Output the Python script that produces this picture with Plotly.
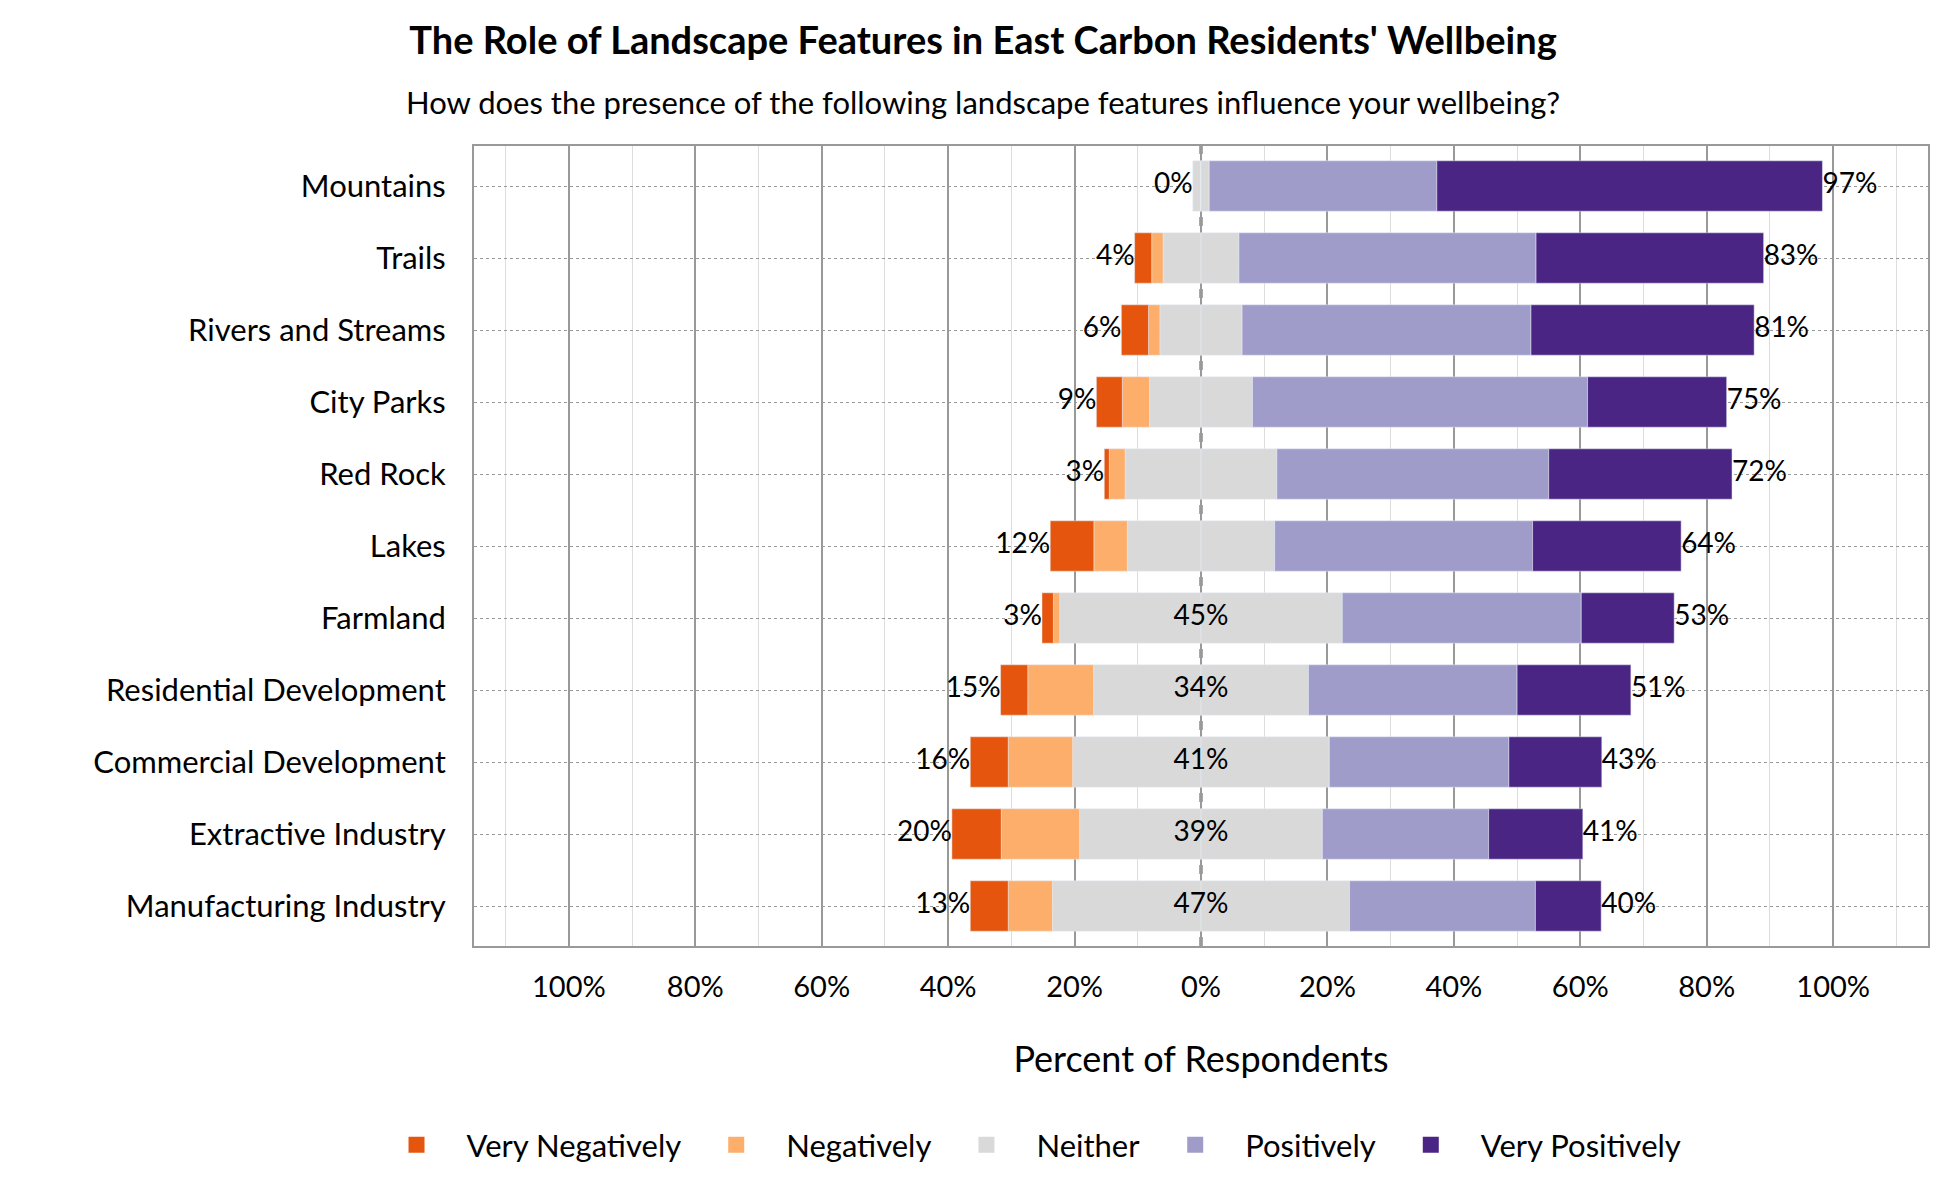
import plotly.graph_objects as go

categories = ["Mountains", "Trails", "Rivers and Streams", "City Parks", "Red Rock", "Lakes",
              "Farmland", "Residential Development", "Commercial Development",
              "Extractive Industry", "Manufacturing Industry"]
very_neg = [0, 2.7, 4.3, 4.1, 0.8, 6.9, 1.8, 4.3, 6.0, 7.8, 6.0]
neg = [0, 1.8, 1.8, 4.3, 2.5, 5.3, 1.0, 10.4, 10.2, 12.4, 7.0]
neither = [2.6, 12.0, 13.0, 16.3, 24.0, 23.3, 44.7, 34.0, 40.6, 38.4, 47.0]
pos = [36.0, 47.0, 45.7, 53.0, 43.0, 40.8, 37.8, 33.0, 28.4, 26.3, 29.4]
very_pos = [61.0, 36.0, 35.3, 22.0, 29.0, 23.5, 14.7, 18.0, 14.7, 14.9, 10.4]
left_labels = ["0%", "4%", "6%", "9%", "3%", "12%", "3%", "15%", "16%", "20%", "13%"]
mid_labels = ["", "", "", "", "", "", "45%", "34%", "41%", "39%", "47%"]
right_labels = ["97%", "83%", "81%", "75%", "72%", "64%", "53%", "51%", "43%", "41%", "40%"]
legend_names = ["Very Negatively", "Negatively", "Neither", "Positively", "Very Positively"]

colors = {"vn": "#e6550d", "n": "#fdae6b", "nei": "#d9d9d9", "p": "#a09cc9", "vp": "#4b2584"}
legend_colors = [colors["vn"], colors["n"], colors["nei"], colors["p"], colors["vp"]]
FONT = "Lato"

fig = go.Figure()
half = [v / 2 for v in neither]
bar_specs = [
    ([-h for h in half], colors["nei"]),
    ([-v for v in neg], colors["n"]),
    ([-v for v in very_neg], colors["vn"]),
    (half, colors["nei"]),
    (pos, colors["p"]),
    (very_pos, colors["vp"]),
]
for xs, col in bar_specs:
    fig.add_trace(go.Bar(y=categories, x=xs, orientation="h", marker_color=col, showlegend=False))

# legend entries with square swatches
for name, col in zip(legend_names, legend_colors):
    fig.add_trace(go.Scatter(x=[None], y=[None], mode="markers", name=name,
                             marker=dict(symbol="square", size=48, color=col)))

left_x = [-(a + b + c / 2) for a, b, c in zip(very_neg, neg, neither)]
right_x = [c / 2 + d + e for c, d, e in zip(neither, pos, very_pos)]
tf = dict(family=FONT, size=28, color="black")
fig.add_trace(go.Scatter(y=categories, x=left_x, text=left_labels, mode="text",
                         textposition="middle left", textfont=tf, showlegend=False, hoverinfo="skip"))
fig.add_trace(go.Scatter(y=categories, x=[0] * len(categories), text=mid_labels, mode="text",
                         textposition="middle center", textfont=tf, showlegend=False, hoverinfo="skip"))
fig.add_trace(go.Scatter(y=categories, x=right_x, text=right_labels, mode="text",
                         textposition="middle right", textfont=tf, showlegend=False, hoverinfo="skip"))

fig.add_vline(x=0, line=dict(color="#555555", width=3, dash="dash"), layer="below")

fig.add_annotation(text="How does the presence of the following landscape features influence your wellbeing?",
                   xref="paper", yref="paper", x=(975 - 466) / (1950 - 466 - 30), y=1.055,
                   showarrow=False, font=dict(size=31), xanchor="center", yanchor="middle")

ticks = list(range(-100, 101, 20))
fig.update_layout(
    width=1950, height=1200, barmode="relative", bargap=0.3,
    plot_bgcolor="white", paper_bgcolor="white",
    font=dict(family=FONT, size=30, color="black"),
    margin=dict(l=466, r=30, t=138, b=262),
    title=dict(text="<b>The Role of Landscape Features in East Carbon Residents' Wellbeing</b>",
               xref="container", x=0.5, xanchor="center", yref="container", y=0.984, yanchor="top",
               font=dict(size=38)),
    xaxis=dict(range=[-115, 115], tickvals=ticks, ticktext=[f"{abs(t)}%" for t in ticks],
               showgrid=True, gridcolor="#999999", gridwidth=2, zeroline=False,
               minor=dict(dtick=10, showgrid=True, gridcolor="#dddddd", gridwidth=1),
               showline=True, linecolor="#999999", linewidth=2, mirror=True,
               ticklabelstandoff=14, tickfont=dict(size=29),
               title=dict(text="Percent of Respondents", font=dict(size=36), standoff=45)),
    yaxis=dict(autorange="reversed", showgrid=True, gridcolor="#999999", griddash="dot", gridwidth=1,
               showline=True, linecolor="#999999", linewidth=2, mirror=True,
               ticklabelstandoff=20, tickfont=dict(size=31)),
    legend=dict(orientation="h", x=0.38, xanchor="center", y=-0.215, yanchor="top",
                font=dict(size=31), itemwidth=90, traceorder="normal"),
)

fig.write_html("out.html")
